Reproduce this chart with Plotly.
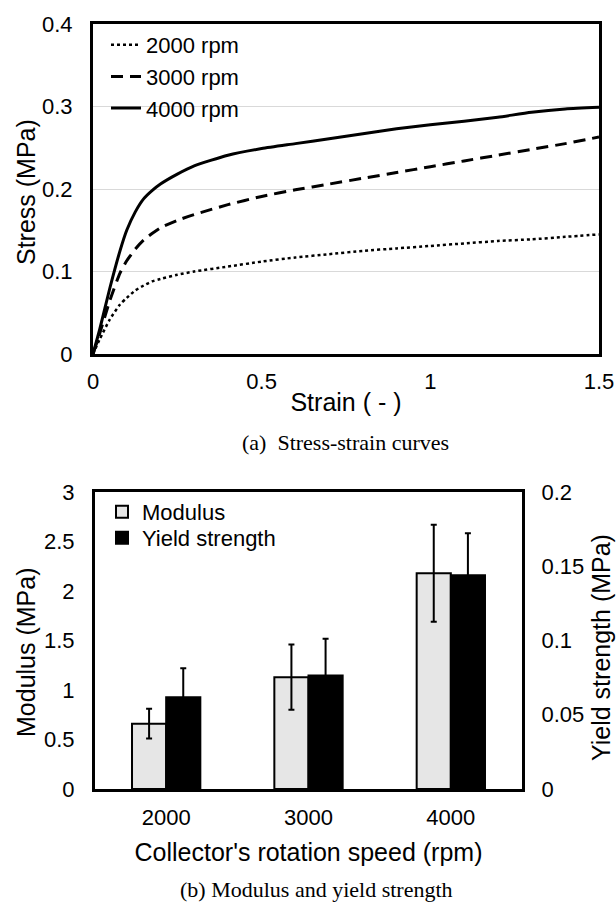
import plotly.graph_objects as go

W, H = 616, 902

# ---- data: (a) stress-strain curves ----
strain = [0, 0.02, 0.05, 0.08, 0.1, 0.125, 0.15, 0.175, 0.2, 0.25, 0.3, 0.4, 0.5,
          0.6, 0.7, 0.8, 0.9, 1.0, 1.1, 1.2, 1.3, 1.4, 1.5]
stress_2000 = [0, 0.018, 0.042, 0.06, 0.068, 0.077, 0.083, 0.088, 0.091, 0.096, 0.1, 0.106,
               0.112, 0.117, 0.121, 0.125, 0.128, 0.131, 0.134, 0.137, 0.139, 0.142, 0.145]
stress_3000 = [0, 0.025, 0.065, 0.098, 0.113, 0.127, 0.138, 0.146, 0.153, 0.162, 0.169, 0.181,
               0.191, 0.199, 0.206, 0.213, 0.22, 0.227, 0.234, 0.241, 0.248, 0.255, 0.263]
stress_4000 = [0, 0.03, 0.08, 0.125, 0.15, 0.172, 0.188, 0.198, 0.206, 0.218, 0.228, 0.241,
               0.249, 0.255, 0.261, 0.267, 0.273, 0.278, 0.282, 0.287, 0.293, 0.297, 0.299]
curve_names = ["2000 rpm", "3000 rpm", "4000 rpm"]

# ---- data: (b) modulus and yield strength ----
speeds = ["2000", "3000", "4000"]
modulus = [0.66, 1.13, 2.18]
modulus_err = [0.15, 0.33, 0.49]
yield_strength = [0.0618, 0.0764, 0.144]
yield_err = [0.0195, 0.0247, 0.0283]


def px_x(p):
    return p / W


def px_y(p):
    return 1 - p / H


FONT = "Liberation Sans, Arial, sans-serif"
SERIF = "Liberation Serif, Times New Roman, serif"

fig = go.Figure()

styles = [dict(dash="dot", width=2.5), dict(dash="12px,7px", width=3), dict(dash="solid", width=3)]
for name, ys, st in zip(curve_names, [stress_2000, stress_3000, stress_4000], styles):
    fig.add_trace(go.Scatter(x=strain, y=ys, mode="lines", name=name,
                             line=dict(color="black", shape="spline", smoothing=0.6, **st),
                             xaxis="x", yaxis="y", legend="legend"))

fig.add_trace(go.Bar(x=speeds, y=modulus, name="Modulus", xaxis="x2", yaxis="y2",
                     marker=dict(color="#e6e6e6", line=dict(color="black", width=2)),
                     width=0.24, offset=-0.24,
                     error_y=dict(type="data", array=modulus_err, color="black", thickness=2, width=3),
                     legend="legend2"))
fig.add_trace(go.Bar(x=speeds, y=yield_strength, name="Yield strength", xaxis="x2", yaxis="y3",
                     marker=dict(color="black", line=dict(color="black", width=2)),
                     width=0.24, offset=0,
                     error_y=dict(type="data", array=yield_err, color="black", thickness=2, width=3),
                     legend="legend3"))

axis_common = dict(showline=True, linecolor="black", linewidth=3, ticks="", zeroline=False,
                   tickfont=dict(family=FONT, size=22, color="black"), automargin=False)

legend_common = dict(xanchor="left", yanchor="top", bgcolor="rgba(0,0,0,0)",
                     font=dict(family=FONT, size=22, color="black"), tracegroupgap=0, itemwidth=30)


def ann_text(text, x, y, angle=0, family=FONT, size=25):
    return dict(text=text, x=px_x(x), y=px_y(y), xref="paper", yref="paper", showarrow=False,
                xanchor="center", yanchor="middle", textangle=angle,
                font=dict(family=family, size=size, color="black"))


fig.update_layout(
    width=W, height=H, margin=dict(l=0, r=0, t=0, b=0),
    paper_bgcolor="white", plot_bgcolor="white",
    font=dict(family=FONT, color="black"),
    barmode="overlay",
    xaxis=dict(domain=[px_x(93), px_x(599)], range=[0, 1.5], tickvals=[0, 0.5, 1, 1.5],
               ticktext=["0", "0.5", "1", "1.5"], mirror=True, showgrid=False,
               title=dict(text="Strain ( - )", font=dict(size=25), standoff=1),
               ticklabelstandoff=6, anchor="y", **axis_common),
    yaxis=dict(domain=[px_y(354), px_y(24)], range=[0, 0.4], tickvals=[0, 0.1, 0.2, 0.3, 0.4],
               ticktext=["0", "0.1", "0.2", "0.3", "0.4"], mirror=True, showgrid=True,
               gridcolor="#d9d9d9", gridwidth=1,
               ticklabelstandoff=13, anchor="x", **axis_common),
    xaxis2=dict(domain=[px_x(95), px_x(522)], type="category", mirror=True, showgrid=False,
                title=dict(text="Collector's rotation speed (rpm)", font=dict(size=25), standoff=15),
                ticklabelstandoff=7, anchor="y2", **axis_common),
    yaxis2=dict(domain=[px_y(789), px_y(492)], range=[0, 3], tickvals=[0, 0.5, 1, 1.5, 2, 2.5, 3],
                ticktext=["0", "0.5", "1", "1.5", "2", "2.5", "3"], showgrid=False,
                ticklabelstandoff=13, anchor="x2", **axis_common),
    yaxis3=dict(range=[0, 0.2], tickvals=[0, 0.05, 0.1, 0.15, 0.2],
                ticktext=["0", "0.05", "0.1", "0.15", "0.2"], overlaying="y2", side="right",
                showgrid=False, anchor="x2",
                ticklabelstandoff=12, **axis_common),
    legend=dict(x=px_x(106), y=px_y(24), **legend_common),
    legend2=dict(x=px_x(102), y=px_y(491), **legend_common),
    legend3=dict(x=px_x(102), y=px_y(517), **legend_common),
    annotations=[
        ann_text("Stress (MPa)", 26, 192, angle=-90),
        ann_text("Modulus (MPa)", 26, 652, angle=-90),
        ann_text("Yield strength (MPa)", 601, 648, angle=-90),
        ann_text("(a)  Stress-strain curves", 345, 442, family=SERIF, size=22),
        ann_text("(b) Modulus and yield strength", 316, 889, family=SERIF, size=22),
    ],
)

fig.write_html("out.html",
               config={"displayModeBar": False},
               post_script="document.body.style.margin='0px';document.body.style.overflow='hidden';")
